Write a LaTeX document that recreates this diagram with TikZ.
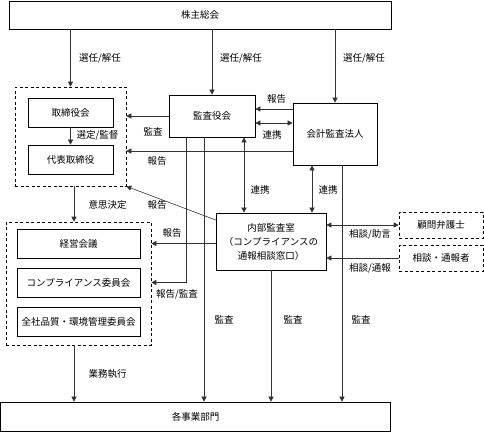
\documentclass[tikz,border=0pt]{standalone}
\usepackage{fontspec}
\setmainfont{Noto Sans CJK JP}
\usetikzlibrary{arrows.meta}

\tikzset{
  unit/.style={draw, line width=0.7pt, inner sep=1pt, align=center,
    font=\fontsize{9.5}{14}\selectfont},
  group/.style={draw, dash pattern=on 3pt off 2.5pt, line width=0.6pt, inner sep=0pt},
  tag/.style={font=\fontsize{9.5}{11}\selectfont, inner sep=0pt},
  link/.style={line width=0.6pt, draw=black!80, -{Triangle[length=5pt,width=5pt]}},
  linkboth/.style={line width=0.6pt, draw=black!80,
    {Triangle[length=5pt,width=5pt]}-{Triangle[length=5pt,width=5pt]}},
}

\begin{document}
\begin{tikzpicture}[x=1pt,y=-1pt]
\useasboundingbox (0,0) rectangle (484,432);

% boxes
\node[unit, minimum width=382pt, minimum height=28pt] (AGM) at (200,15) {株主総会};
\node[group, minimum width=111pt, minimum height=99pt] (Board) at (70.5,136.5) {};
\node[unit, minimum width=85pt, minimum height=29pt] (BD) at (70.5,112.5) {取締役会};
\node[unit, minimum width=85pt, minimum height=29pt] (RD) at (70.5,159.5) {代表取締役};
\node[unit, minimum width=86pt, minimum height=42pt] (AB) at (212,116) {監査役会};
\node[unit, minimum width=84pt, minimum height=62pt] (EA) at (335,134) {会計監査法人};
\node[unit, minimum width=110pt, minimum height=57pt] (IA) at (271,241.5)
  {内部監査室\\（コンプライアンスの\\通報相談窓口）};
\node[group, minimum width=145pt, minimum height=123pt] (Exec) at (78.5,283.5) {};
\node[unit, minimum width=123pt, minimum height=29pt] (MC) at (78.5,243.5) {経営会議};
\node[unit, minimum width=123pt, minimum height=29pt] (CC) at (78.5,282.5) {コンプライアンス委員会};
\node[unit, minimum width=123pt, minimum height=29pt] (QC) at (78.5,322) {全社品質・環境管理委員会};
\node[group, minimum width=84pt, minimum height=26pt, font=\fontsize{9.5}{11}\selectfont] (Law) at (441,225) {顧問弁護士};
\node[group, minimum width=84pt, minimum height=26pt, font=\fontsize{9.5}{11}\selectfont] (Rep) at (441,258) {相談・通報者};
\node[unit, minimum width=390pt, minimum height=29pt] (Div) at (195.5,416.5) {各事業部門};

% helper points
\coordinate (rp) at ([yshift=-17pt]EA.west);
\coordinate (abL) at ([xshift=-26pt]AB.south);
\coordinate (abM) at ([xshift=-8pt]AB.south);
\coordinate (abR) at ([xshift=32pt]AB.south);
\coordinate (eaL) at ([xshift=-23pt]EA.south);
\coordinate (eaR) at ([xshift=7pt]EA.south);
\coordinate (bdS) at ([xshift=3.5pt]Board.south);
\coordinate (exS) at ([xshift=-4.5pt]Exec.south);

% connectors
\draw[link] (AGM.south -| Board.north) -- (Board.north);
\draw[link] (AGM.south -| AB.north) -- (AB.north);
\draw[link] (AGM.south -| EA.north) -- (EA.north);
\draw[link] (BD) -- (RD);
\draw[link] ([yshift=25pt]EA.west) -- ([yshift=7pt]AB.east);
\draw[linkboth] ([yshift=11pt]EA.west) -- ([yshift=-7pt]AB.east);
\draw[link] (AB.west) -- (AB.west -| Board.east);
\draw[link] (rp) -- (rp -| Board.east);
\draw[link] (abL) |- (Exec.east |- CC);
\draw[link] (abM) -- (abM |- Div.north);
\draw[linkboth] (abR) -- (abR |- IA.north);
\draw[linkboth] (eaL) -- (eaL |- IA.north);
\draw[link] (eaR) -- (eaR |- Div.north);
\draw[link] (IA.south) -- (IA.south |- Div.north);
\draw[link] ([yshift=21.5pt]IA.west) -- (Board.south east);
\draw[link] (IA.west |- MC) -- (Exec.east |- MC);
\draw[linkboth] (IA.east |- Law.west) -- (Law.west);
\draw[link] (Rep.west) -- (Rep.west -| IA.east);
\draw[link] (bdS) -- (bdS |- Exec.north);
\draw[link] (exS) -- (exS |- Div.north);

% labels
\node[tag] (l1) at (100,58) {選任/解任};
\node[tag] (l2) at (241,58) {選任/解任};
\node[tag] (l3) at (364,58) {選任/解任};
\node[tag] (l4) at (97.5,135) {選定/監督};
\node[tag] (l5) at (276.5,99) {報告};
\node[tag] (l6) at (272,135) {連携};
\node[tag] (l7) at (153,132) {監査};
\node[tag] (l8) at (157,161) {報告};
\node[tag] (l9) at (260,190) {連携};
\node[tag] (l10) at (328,190) {連携};
\node[tag] (l11) at (107.5,205) {意思決定};
\node[tag] (l12) at (157,205) {報告};
\node[tag] (l13) at (172,233) {報告};
\node[tag] (l14) at (177,294) {報告/監査};
\node[tag] (l15) at (224,320) {監査};
\node[tag] (l16) at (293,320) {監査};
\node[tag] (l17) at (361,320) {監査};
\node[tag] (l18) at (370,234) {相談/助言};
\node[tag] (l19) at (370,268) {相談/通報};
\node[tag] (l20) at (107.5,374) {業務執行};
\end{tikzpicture}
\end{document}
